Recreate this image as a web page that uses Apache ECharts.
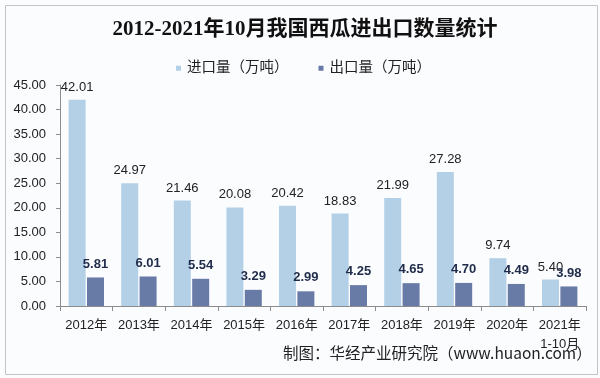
<!DOCTYPE html>
<html><head><meta charset="utf-8">
<script src="https://cdn.jsdelivr.net/npm/echarts@6/dist/echarts.min.js"></script>
<style>html,body{margin:0;padding:0;background:#fbfcfe}#c{width:600px;height:378px}</style>
</head><body><div id="c"></div>
<script>
const categories = ['2012年','2013年','2014年','2015年','2016年','2017年','2018年','2019年','2020年','2021年\n1-10月'];
const importVals = [42.01,24.97,21.46,20.08,20.42,18.83,21.99,27.28,9.74,5.40];
const exportVals = [5.81,6.01,5.54,3.29,2.99,4.25,4.65,4.70,4.49,3.98];
const seriesNames = ['进口量（万吨）','出口量（万吨）'];
const titleText = '2012-2021年10月我国西瓜进出口数量统计';
const footerText = '制图：华经产业研究院（www.huaon.com）';

const chart = echarts.init(document.getElementById('c'));
const sans = "'Liberation Sans', Arial, 'Noto Sans CJK SC', sans-serif";
chart.setOption({
  backgroundColor: '#fbfcfe',
  animation: false,
  title: {
    text: titleText, left: 300, top: 14, textAlign: 'center',
    textStyle: {fontFamily: "'Liberation Serif', 'Noto Sans CJK SC', serif", fontSize: 21, fontWeight: 'bold', color: '#111'}
  },
  legend: {
    data: seriesNames, left: 171, top: 56, icon: 'rect', itemWidth: 5, itemHeight: 5, itemGap: 30,
    textStyle: {fontFamily: sans, fontSize: 14.5, color: '#222', padding: [0,0,0,1]}
  },
  grid: {left: 60, right: 14, top: 85, bottom: 72},
  xAxis: {
    type: 'category', data: categories,
    axisLine: {lineStyle: {color: '#8c8c8c'}},
    axisTick: {show: true, length: 5, lineStyle: {color: '#8c8c8c'}},
    axisLabel: {fontFamily: sans, fontSize: 13, color: '#222', margin: 10, lineHeight: 19, interval: 0}
  },
  yAxis: {
    type: 'value', min: 0, max: 45, interval: 5,
    axisLine: {show: true, lineStyle: {color: '#8c8c8c'}},
    axisTick: {show: true, length: 4, lineStyle: {color: '#8c8c8c'}},
    splitLine: {show: false},
    axisLabel: {fontFamily: sans, fontSize: 13, color: '#222', margin: 14, formatter: v => v.toFixed(2)}
  },
  series: [
    {name: seriesNames[0], type: 'bar', data: importVals, barWidth: 17, barGap: '8%',
     itemStyle: {color: '#b3d0e6'},
     label: {show: true, position: 'top', distance: 6, fontFamily: sans, fontSize: 13, color: '#222', formatter: p => p.value.toFixed(2)}},
    {name: seriesNames[1], type: 'bar', data: exportVals, barWidth: 17,
     itemStyle: {color: '#687aa6'},
     label: {show: true, position: 'top', distance: 7, fontFamily: sans, fontSize: 13, fontWeight: 'bold', color: '#1f2b4a', formatter: p => p.value.toFixed(2)}}
  ],
  graphic: [
    {type: 'rect', left: 3, top: 3, shape: {width: 592, height: 369}, style: {fill: 'none', stroke: '#c4c4c4', lineWidth: 1}, silent: true},
    {type: 'text', left: 283, top: 345, style: {text: footerText, font: "15.5px 'Noto Sans CJK SC', sans-serif", fill: '#222'}}
  ]
});
</script></body></html>
